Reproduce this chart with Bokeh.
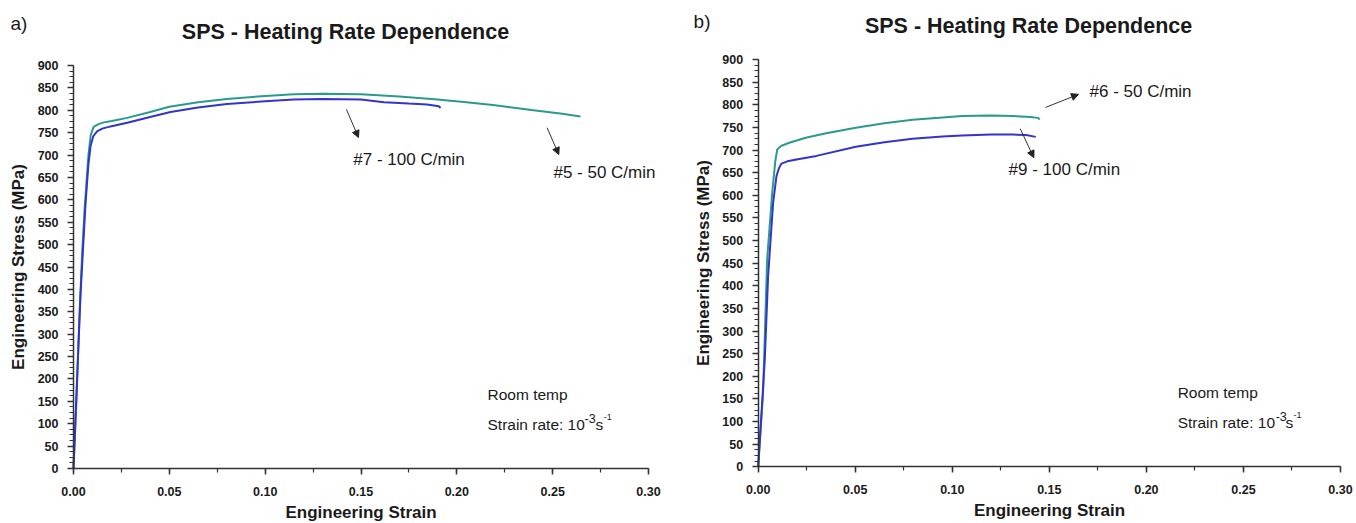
from bokeh.plotting import figure
from bokeh.layouts import row
from bokeh.models import (Range1d, SingleIntervalTicker, PrintfTickFormatter, Label,
                          Arrow, NormalHead)
from bokeh.embed import file_html
from bokeh.resources import INLINE

# ---------------- data ----------------
# Panel a
a_s5_strain = [0, 0.0015, 0.003, 0.0045, 0.0058, 0.0068, 0.0078, 0.009, 0.0105, 0.013, 0.0158,
               0.02, 0.028, 0.04, 0.05, 0.065, 0.08, 0.1, 0.115, 0.13, 0.15, 0.17, 0.19, 0.205,
               0.22, 0.24, 0.255, 0.2645]
a_s5_stress = [0, 150, 330, 480, 580, 640, 700, 745, 763, 769, 773,
               776, 783, 796, 808, 818, 825, 832, 836, 837, 836, 831, 824, 818,
               811, 800, 792, 786]
a_s7_strain = [0, 0.0015, 0.0037, 0.0063, 0.0078, 0.0089, 0.0103, 0.0123, 0.015, 0.0193, 0.028,
               0.04, 0.0506, 0.065, 0.08, 0.1, 0.115, 0.13, 0.15, 0.162, 0.175, 0.1845, 0.1906,
               0.1915]
a_s7_stress = [0, 160, 392, 593, 680, 720, 742, 753, 759, 764, 772,
               785, 796, 806, 814, 820, 824, 825, 824, 818, 815, 813, 809,
               805]
# Panel b
b_s6_strain = [0, 0.0025, 0.0046, 0.0072, 0.0088, 0.0098, 0.0112, 0.0124, 0.016, 0.0245, 0.035,
               0.0503, 0.065, 0.0795, 0.095, 0.105, 0.12, 0.131, 0.14, 0.1442, 0.145]
b_s6_stress = [0, 163, 458, 605, 675, 701, 707, 710, 716, 727, 737,
               749, 759, 767, 772, 775, 776, 775, 773, 771, 767]
b_s9_strain = [0, 0.0034, 0.0051, 0.0077, 0.0094, 0.0107, 0.012, 0.015, 0.0197, 0.03, 0.0503,
               0.065, 0.0795, 0.095, 0.105, 0.12, 0.131, 0.138, 0.143]
b_s9_stress = [0, 237, 421, 584, 642, 660, 670, 675, 679, 687, 707,
               717, 725, 730, 732, 734, 734, 733, 729]

TITLE = "SPS - Heating Rate Dependence"
X_LABEL = "Engineering Strain"
Y_LABEL = "Engineering Stress (MPa)"

X_MAX = 0.30
Y_MAX = 900

TEAL = "#2A9A8C"
BLUE = "#3434C8"
FONT = "Liberation Sans"
INK = "#1a1a1a"

FIG_H = 522
OY = 1  # page y of figure top
BOTTOM = OY + FIG_H


def make_fig(width, xr, yr):
    p = figure(width=width, height=FIG_H, x_range=Range1d(*xr), y_range=Range1d(*yr),
               output_backend="svg", toolbar_location=None, min_border=0)
    p.outline_line_color = None
    p.xgrid.visible = False
    p.ygrid.visible = False
    p.background_fill_color = "white"
    p.border_fill_color = "white"
    p.xaxis.ticker = SingleIntervalTicker(interval=0.05, num_minor_ticks=2)
    p.yaxis.ticker = SingleIntervalTicker(interval=50, num_minor_ticks=4)
    p.xaxis.formatter = PrintfTickFormatter(format="%.2f")
    p.yaxis.formatter = PrintfTickFormatter(format="%d")
    p.xaxis.bounds = (0, X_MAX + 1e-9)
    p.yaxis.bounds = (0, Y_MAX)
    p.xaxis.fixed_location = 0
    p.yaxis.fixed_location = 0
    for ax in (p.xaxis, p.yaxis):
        ax.axis_line_width = 1.5
        ax.axis_line_color = "#333333"
        ax.major_tick_line_color = "#333333"
        ax.minor_tick_line_color = "#333333"
        ax.major_tick_line_width = 1.5
        ax.minor_tick_line_width = 1.2
        ax.major_tick_in = 0
        ax.minor_tick_in = 0
        ax.major_tick_out = 6
        ax.minor_tick_out = 4
        ax.major_label_text_font = FONT
        ax.major_label_text_font_style = "bold"
        ax.major_label_text_font_size = "12.5px"
        ax.major_label_text_color = INK
        ax.axis_label_text_font = FONT
        ax.axis_label_text_font_style = "bold"
        ax.axis_label_text_font_size = "17px"
        ax.axis_label_text_color = INK
    p.xaxis.axis_label = X_LABEL
    p.yaxis.axis_label = Y_LABEL
    p.xaxis.major_label_standoff = 12
    p.xaxis.axis_label_standoff = 4
    p.yaxis.major_label_standoff = 9
    p.yaxis.axis_label_standoff = 7
    return p


def txt(p, x, y, s, size="15.5px", style="normal", align="left", baseline="middle"):
    p.add_layout(Label(x=x, y=y, text=s, text_font=FONT, text_font_size=size,
                       text_font_style=style, text_align=align, text_baseline=baseline,
                       text_color=INK))


def arrow(p, x0, y0, x1, y1):
    p.add_layout(Arrow(end=NormalHead(size=7, fill_color="#222222", line_color="#222222",
                                      line_width=1),
                       x_start=x0, y_start=y0, x_end=x1, y_end=y1,
                       line_color="#333333", line_width=1))


def strain_rate(p, x0, xs3, xs, xs1, y):
    txt(p, x0, y, "Strain rate: 10", size="15.5px")
    txt(p, xs3, y + 14, "-3", size="12.5px")
    txt(p, xs, y, "s", size="15.5px")
    txt(p, xs1, y + 16, "-1", size="9px")


# ---------------- panel a ----------------
# figure spans page x 0..692; axis 0 at x=73, 0.30 at 648; y 0 at 469, 900 at 66
A_LEFT, A_W = 0, 692
ax_scale = 575 / 0.30
ay_scale = 403 / 900
pa = make_fig(A_W, (-(73 - A_LEFT) / ax_scale, (A_LEFT + A_W - 73) / ax_scale),
              (-(BOTTOM - 469) / ay_scale, (469 - OY) / ay_scale))
pa.line(a_s5_strain, a_s5_stress, line_color=TEAL, line_width=2)
pa.line(a_s7_strain, a_s7_stress, line_color=BLUE, line_width=2)
txt(pa, -0.0329, 994, "a)", size="19px")
txt(pa, 0.1419, 974, TITLE, size="21.5px", style="bold", align="center")
arrow(pa, 0.1424, 802, 0.1487, 739)
arrow(pa, 0.2471, 761, 0.2532, 701)
txt(pa, 0.146, 690, "#7 - 100 C/min", size="17px")
txt(pa, 0.2504, 661, "#5 - 50 C/min", size="17px")
txt(pa, 0.216, 165, "Room temp")
strain_rate(pa, 0.216, 0.2666, 0.2723, 0.2766, 98)

# ---------------- panel b ----------------
# figure spans page x 692..1356; axis 0 at x=757.7, 0.30 at 1340; y 0 at 467.3, 900 at 60
B_LEFT, B_W = 692, 664
bx_scale = (1340 - 757.7) / 0.30
by_scale = (467.3 - 60) / 900
pb = make_fig(B_W, (-(757.7 - B_LEFT) / bx_scale, (B_LEFT + B_W - 757.7) / bx_scale),
              (-(BOTTOM - 467.3) / by_scale, (467.3 - OY) / by_scale))
pb.line(b_s6_strain, b_s6_stress, line_color=TEAL, line_width=2)
pb.line(b_s9_strain, b_s9_stress, line_color=BLUE, line_width=2)
txt(pb, -0.0333, 984, "b)", size="19px")
txt(pb, 0.1393, 975, TITLE, size="21.5px", style="bold", align="center")
arrow(pb, 0.148, 794, 0.165, 823)
arrow(pb, 0.135, 747, 0.142, 683)
txt(pb, 0.1707, 829, "#6 - 50 C/min", size="17px")
txt(pb, 0.129, 657, "#9 - 100 C/min", size="17px")
txt(pb, 0.2161, 164, "Room temp")
strain_rate(pb, 0.2161, 0.2666, 0.2717, 0.2758, 98)

layout = row(pa, pb)
open("out.html", "w").write(file_html(layout, INLINE))
